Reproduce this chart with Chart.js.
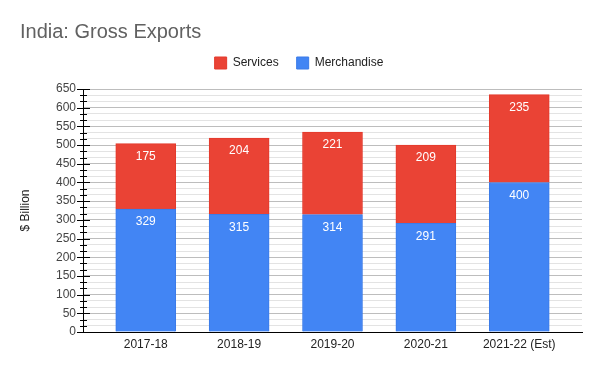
<!DOCTYPE html>
<html>
<head>
<meta charset="utf-8">
<script src="https://cdn.jsdelivr.net/npm/chart.js@4"></script>
<style>
  body { margin: 0; background: #fff; }
  #wrap { width: 600px; height: 371px; position: relative; }
</style>
</head>
<body>
<div id="wrap"><canvas id="chart"></canvas></div>
<script>
var years = ['2017-18', '2018-19', '2019-20', '2020-21', '2021-22 (Est)'];
var merchandise = [329, 315, 314, 291, 400];
var services = [175, 204, 221, 209, 235];
var yLabels = [0, 50, 100, 150, 200, 250, 300, 350, 400, 450, 500, 550, 600, 650];

var font = '"Liberation Sans", Arial, sans-serif';

function isMajor(v)
{
  return Math.abs(v / 50 - Math.round(v / 50)) < 1e-6;
}

// white value text near top of each segment
var barText = {
  id: 'barText',
  afterDatasetsDraw: function(chart)
  {
    var ctx = chart.ctx;
    ctx.save();
    ctx.fillStyle = '#ffffff';
    ctx.font = '12px ' + font;
    ctx.textAlign = 'center';
    ctx.textBaseline = 'middle';
    chart.data.datasets.forEach(function(ds, di)
    {
      var meta = chart.getDatasetMeta(di);
      meta.data.forEach(function(bar, i)
      {
        ctx.fillText(ds.data[i].y, bar.x, bar.y + 13);
      });
    });
    ctx.restore();
  }
};

// little tick marks crossing the y axis
var axisTicks = {
  id: 'axisTicks',
  afterDraw: function(chart)
  {
    var y = chart.scales.y;
    var ctx = chart.ctx;
    var x0 = y.right;
    ctx.save();
    ctx.strokeStyle = '#000';
    ctx.lineWidth = 1;
    y.ticks.forEach(function(t)
    {
      var py = Math.round(y.getPixelForValue(t.value)) + 0.5;
      var a = isMajor(t.value) ? 6 : 3;
      var b = isMajor(t.value) ? 7 : 4;
      ctx.beginPath();
      ctx.moveTo(x0 - a, py);
      ctx.lineTo(x0 + b, py);
      ctx.stroke();
    });
    ctx.restore();
  }
};

// room under the legend, title moved in from the left edge
var spacing = {
  id: 'spacing',
  beforeLayout: function(chart)
  {
    var lg = chart.legend;
    if (lg && !lg._patched)
    {
      var fit = lg.fit;
      lg.fit = function()
      {
        fit.call(this);
        this.height += 10;
      };
      lg._patched = true;
    }
  },
  afterLayout: function(chart)
  {
    if (chart.titleBlock) chart.titleBlock.left = 20;
    if (chart.legend)
    {
      chart.legend.left += 8;
      chart.legend.right += 8;
    }
  }
};

new Chart(document.getElementById('chart'), {
  type: 'bar',
  data: {
    datasets: [
      {
        label: 'Merchandise',
        data: merchandise.map(function(v, i) { return {x: i, y: v}; }),
        backgroundColor: '#4285F4',
        borderColor: '#3b7be8',
        borderWidth: 1,
        barThickness: 60
      },
      {
        label: 'Services',
        data: services.map(function(v, i) { return {x: i, y: v}; }),
        backgroundColor: '#EA4335',
        borderColor: '#e33a2c',
        borderWidth: 1,
        barThickness: 60
      }
    ]
  },
  options: {
    responsive: true,
    maintainAspectRatio: false,
    animation: false,
    layout: { padding: { left: 0, right: 18, top: 0, bottom: 0 } },
    plugins: {
      title: {
        display: true,
        text: 'India: Gross Exports',
        align: 'start',
        color: '#616161',
        font: { family: font, size: 20, weight: 'normal', lineHeight: 1.2 },
        padding: { top: 20, bottom: -5 }
      },
      legend: {
        reverse: true,
        labels: {
          boxWidth: 12,
          boxHeight: 12,
          padding: 18,
          color: '#222',
          font: { family: font, size: 12 }
        }
      },
      tooltip: { enabled: false }
    },
    scales: {
      x: {
        type: 'linear',
        offset: false,
        stacked: true,
        min: -0.672,
        max: 4.672,
        grid: { display: false, drawTicks: false },
        border: { color: '#000' },
        afterBuildTicks: function(s)
        {
          s.ticks = years.map(function(_, i) { return {value: i}; });
        },
        afterFit: function(s) { s.height = 39; },
        ticks: {
          color: '#222',
          padding: 5,
          maxRotation: 0,
          autoSkip: false,
          font: { family: font, size: 12 },
          callback: function(v) { return years[v]; }
        }
      },
      y: {
        stacked: true,
        min: 0,
        max: 650,
        afterBuildTicks: function(s)
        {
          var t = [];
          for (var i = 0; i <= 39; i++) t.push({value: i * 50 / 3});
          s.ticks = t;
        },
        afterFit: function(s) { s.width = 83; },
        border: { color: '#000' },
        grid: {
          color: function(c) { return isMajor(c.tick.value) ? '#bdbdbd' : '#e3e3e3'; },
          tickColor: 'transparent',
          tickLength: 6
        },
        ticks: {
          color: '#444',
          padding: 1,
          autoSkip: false,
          font: { family: font, size: 12 },
          callback: function(v)
          {
            if (!isMajor(v)) return '';
            var r = Math.round(v);
            return yLabels.indexOf(r) >= 0 ? String(r) : '';
          }
        },
        title: {
          display: true,
          text: '$ Billion',
          color: '#222',
          font: { family: font, size: 12 },
          padding: { top: 18, bottom: 0 }
        }
      }
    }
  },
  plugins: [barText, axisTicks, spacing]
});
</script>
</body>
</html>
